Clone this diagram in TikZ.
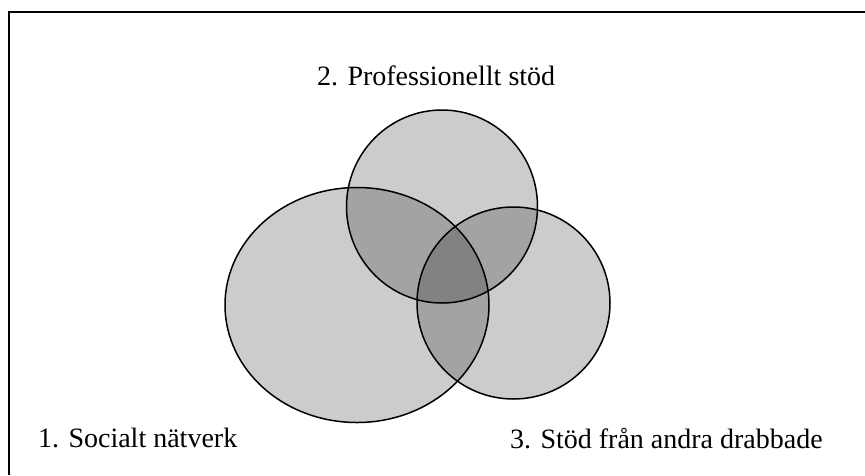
\documentclass[tikz,border=0pt]{standalone}
\usepackage{fontspec}
\setmainfont{Liberation Serif}
\usetikzlibrary{shapes.geometric}
\tikzset{set/.style={draw,ellipse,line width=1.5pt,fill=black,fill opacity=0.2,inner sep=0pt}}
\tikzset{l/.style={font=\fontsize{28}{28}\selectfont,anchor=base west,inner sep=0pt}}

\begin{document}
\begin{tikzpicture}[x=1pt,y=-1pt]
        \useasboundingbox (0,0) rectangle (865,475);
        \draw[line width=2pt] (9,475)--(9,12)--(865,12);
        \node[set,minimum width=264pt,minimum height=235pt] (social) at (357,305) {};
        \node[set,minimum width=191pt,minimum height=193pt] (prof) at (442,206.5) {};
        \node[set,minimum width=193pt,minimum height=192pt] (andra) at (513.5,303) {};
        \node[l] (sociallabel) at (38,447) {1. Socialt nätverk};
        \node[l] (proflabel) at (317,85) {2. Professionellt stöd};
        \node[l] (andralabel) at (510,448) {3. Stöd från andra drabbade};
\end{tikzpicture}
\end{document}
